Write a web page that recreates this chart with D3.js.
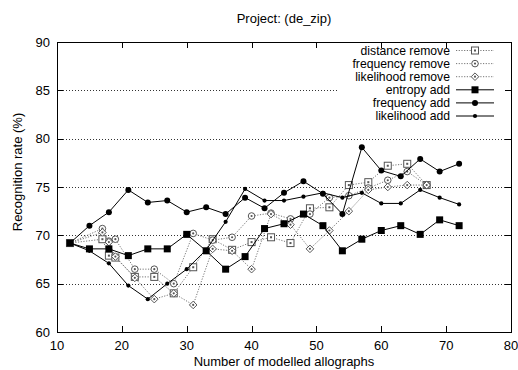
<!DOCTYPE html>
<html><head><meta charset="utf-8">
<script src="https://cdn.jsdelivr.net/npm/d3@7/dist/d3.min.js"></script>
<style>body{margin:0;background:#fff}svg{display:block}text{font-family:"Liberation Sans",Arial,sans-serif;fill:#000}</style>
</head><body><svg id="c" width="518" height="370"></svg>
<script>
// ---- data ----
const addX = [12,15,18,21,24,27,30,33,36,39,42,45,48,51,54,57,60,63,66,69,72];
const entropyAdd    = [69.2,68.6,68.6,67.9,68.6,68.6,70.1,68.4,66.5,67.8,70.7,71.2,72.2,71.0,68.4,69.6,70.5,71.0,70.1,71.6,71.0];
const frequencyAdd  = [69.2,71.0,72.4,74.7,73.4,73.6,72.4,72.9,72.2,73.9,72.8,74.4,75.6,74.3,72.2,79.1,76.7,76.1,77.9,76.6,77.4];
const likelihoodAdd = [69.2,68.4,67.1,64.8,63.4,65.0,66.5,68.5,71.4,74.8,73.6,73.6,74.0,74.4,73.9,74.4,73.3,73.3,74.7,73.9,73.2];
const removeX = [12,17,18,19,22,25,28,31,34,37,40,43,46,49,52,55,58,61,64,67];
const distanceRemove   = [69.2,69.6,67.9,67.7,65.7,65.7,64.0,66.7,69.6,68.5,69.3,69.8,69.2,72.8,72.9,75.2,75.5,77.2,77.4,75.2];
const frequencyRemove  = [69.2,70.7,69.4,69.6,66.5,66.5,65.0,70.2,69.5,69.8,72.0,72.3,71.7,72.2,73.9,74.1,74.9,75.7,76.6,75.2];
const likelihoodRemove = [69.2,70.3,69.3,67.8,65.6,63.4,64.0,62.8,68.6,68.4,66.5,72.2,71.1,68.6,70.5,72.5,74.7,75.0,75.2,75.2];
const xTicks = [10,20,30,40,50,60,70,80];
const yTicks = [60,65,70,75,80,85,90];
const gridY = [65,70,75,80,85];
const seriesNames = ["distance remove","frequency remove","likelihood remove","entropy add","frequency add","likelihood add"];

const svg = d3.select("#c");
const L=57,R=511,T=42,B=332;
const x = d3.scaleLinear().domain([10,80]).range([L,R]);
const y = d3.scaleLinear().domain([60,90]).range([B,T]);

// grid
svg.append("g").selectAll("line").data(gridY).join("line")
  .attr("x1",L).attr("x2",R).attr("y1",d=>Math.round(y(d))+0.5).attr("y2",d=>Math.round(y(d))+0.5)
  .attr("stroke","#333").attr("stroke-width",1).attr("stroke-dasharray","1,2");

const series = [
  {name:seriesNames[0], xs:removeX, ys:distanceRemove, type:"rem", mark:"square"},
  {name:seriesNames[1], xs:removeX, ys:frequencyRemove, type:"rem", mark:"circle"},
  {name:seriesNames[2], xs:removeX, ys:likelihoodRemove, type:"rem", mark:"diamond"},
  {name:seriesNames[3], xs:addX, ys:entropyAdd, type:"add", mark:"fsquare"},
  {name:seriesNames[4], xs:addX, ys:frequencyAdd, type:"add", mark:"fcircle"},
  {name:seriesNames[5], xs:addX, ys:likelihoodAdd, type:"add", mark:"fdot"},
];

function drawMark(g, kind, cx, cy){
  if(kind==="square"){
    g.append("rect").attr("x",cx-3.5).attr("y",cy-3.5).attr("width",7).attr("height",7)
      .attr("fill","#fff").attr("stroke","#555").attr("stroke-width",1);
    g.append("rect").attr("x",cx-1).attr("y",cy-1).attr("width",2).attr("height",2).attr("fill","#555");
  } else if(kind==="circle"){
    g.append("circle").attr("cx",cx).attr("cy",cy).attr("r",3.3).attr("fill","#fff").attr("stroke","#555").attr("stroke-width",1);
    g.append("circle").attr("cx",cx).attr("cy",cy).attr("r",1.1).attr("fill","#555");
  } else if(kind==="diamond"){
    g.append("path").attr("d",`M${cx},${cy-3.8}L${cx+3.8},${cy}L${cx},${cy+3.8}L${cx-3.8},${cy}Z`)
      .attr("fill","#fff").attr("stroke","#555").attr("stroke-width",1);
    g.append("circle").attr("cx",cx).attr("cy",cy).attr("r",1.1).attr("fill","#555");
  } else if(kind==="fsquare"){
    g.append("rect").attr("x",cx-3.5).attr("y",cy-3.5).attr("width",7).attr("height",7).attr("fill","#000");
  } else if(kind==="fcircle"){
    g.append("circle").attr("cx",cx).attr("cy",cy).attr("r",3).attr("fill","#000");
  } else {
    g.append("circle").attr("cx",cx).attr("cy",cy).attr("r",2.1).attr("fill","#000");
  }
}

const line = d3.line();
series.forEach(s=>{
  const pts = s.xs.map((v,i)=>[x(v),y(s.ys[i])]);
  const g = svg.append("g");
  g.append("path").attr("d",line(pts)).attr("fill","none")
    .attr("stroke", s.type==="rem" ? "#777" : "#000")
    .attr("stroke-width",1)
    .attr("stroke-dasharray", s.type==="rem" ? "1.2,1.5" : null);
  pts.forEach(p=>drawMark(g, s.mark, p[0], p[1]));
});

// legend
const lg = svg.append("g");
lg.append("rect").attr("x",338).attr("y",T+1).attr("width",R-338-1).attr("height",80).attr("fill","#fff");
series.forEach((s,i)=>{
  const cy = 50.5 + i*13.1;
  lg.append("text").attr("x",450).attr("y",cy+4.2).attr("text-anchor","end").attr("font-size",12.2).text(s.name);
  lg.append("line").attr("x1",456).attr("x2",494).attr("y1",cy).attr("y2",cy)
    .attr("stroke", s.type==="rem" ? "#777" : "#000").attr("stroke-width",1)
    .attr("stroke-dasharray", s.type==="rem" ? "1.2,1.5" : null);
  drawMark(lg, s.mark, 475, cy);
});

// border & ticks (mirror, inward)
svg.append("rect").attr("x",L+0.5).attr("y",T+0.5).attr("width",R-L).attr("height",B-T)
  .attr("fill","none").attr("stroke","#000").attr("stroke-width",1);
const tk = svg.append("g").attr("stroke","#000").attr("stroke-width",1);
xTicks.forEach(v=>{
  const px = Math.round(x(v))+0.5;
  tk.append("line").attr("x1",px).attr("x2",px).attr("y1",B).attr("y2",B-6);
  tk.append("line").attr("x1",px).attr("x2",px).attr("y1",T).attr("y2",T+6);
});
yTicks.forEach(v=>{
  const py = Math.round(y(v))+0.5;
  tk.append("line").attr("x1",L).attr("x2",L+6).attr("y1",py).attr("y2",py);
  tk.append("line").attr("x1",R).attr("x2",R-6).attr("y1",py).attr("y2",py);
});
svg.append("g").selectAll("text").data(xTicks).join("text")
  .attr("x",d=>x(d)).attr("y",350).attr("text-anchor","middle").attr("font-size",13).text(d=>d);
svg.append("g").selectAll("text").data(yTicks).join("text")
  .attr("x",50).attr("y",d=>y(d)+4.5).attr("text-anchor","end").attr("font-size",13).text(d=>d);

// titles
svg.append("text").attr("x",(L+R)/2).attr("y",23).attr("text-anchor","middle").attr("font-size",13).text("Project: (de_zip)");
svg.append("text").attr("x",(L+R)/2).attr("y",366).attr("text-anchor","middle").attr("font-size",13).text("Number of modelled allographs");
svg.append("text").attr("transform","translate(22,172) rotate(-90)").attr("text-anchor","middle").attr("font-size",13).text("Recognition rate (%)");
</script></body></html>
